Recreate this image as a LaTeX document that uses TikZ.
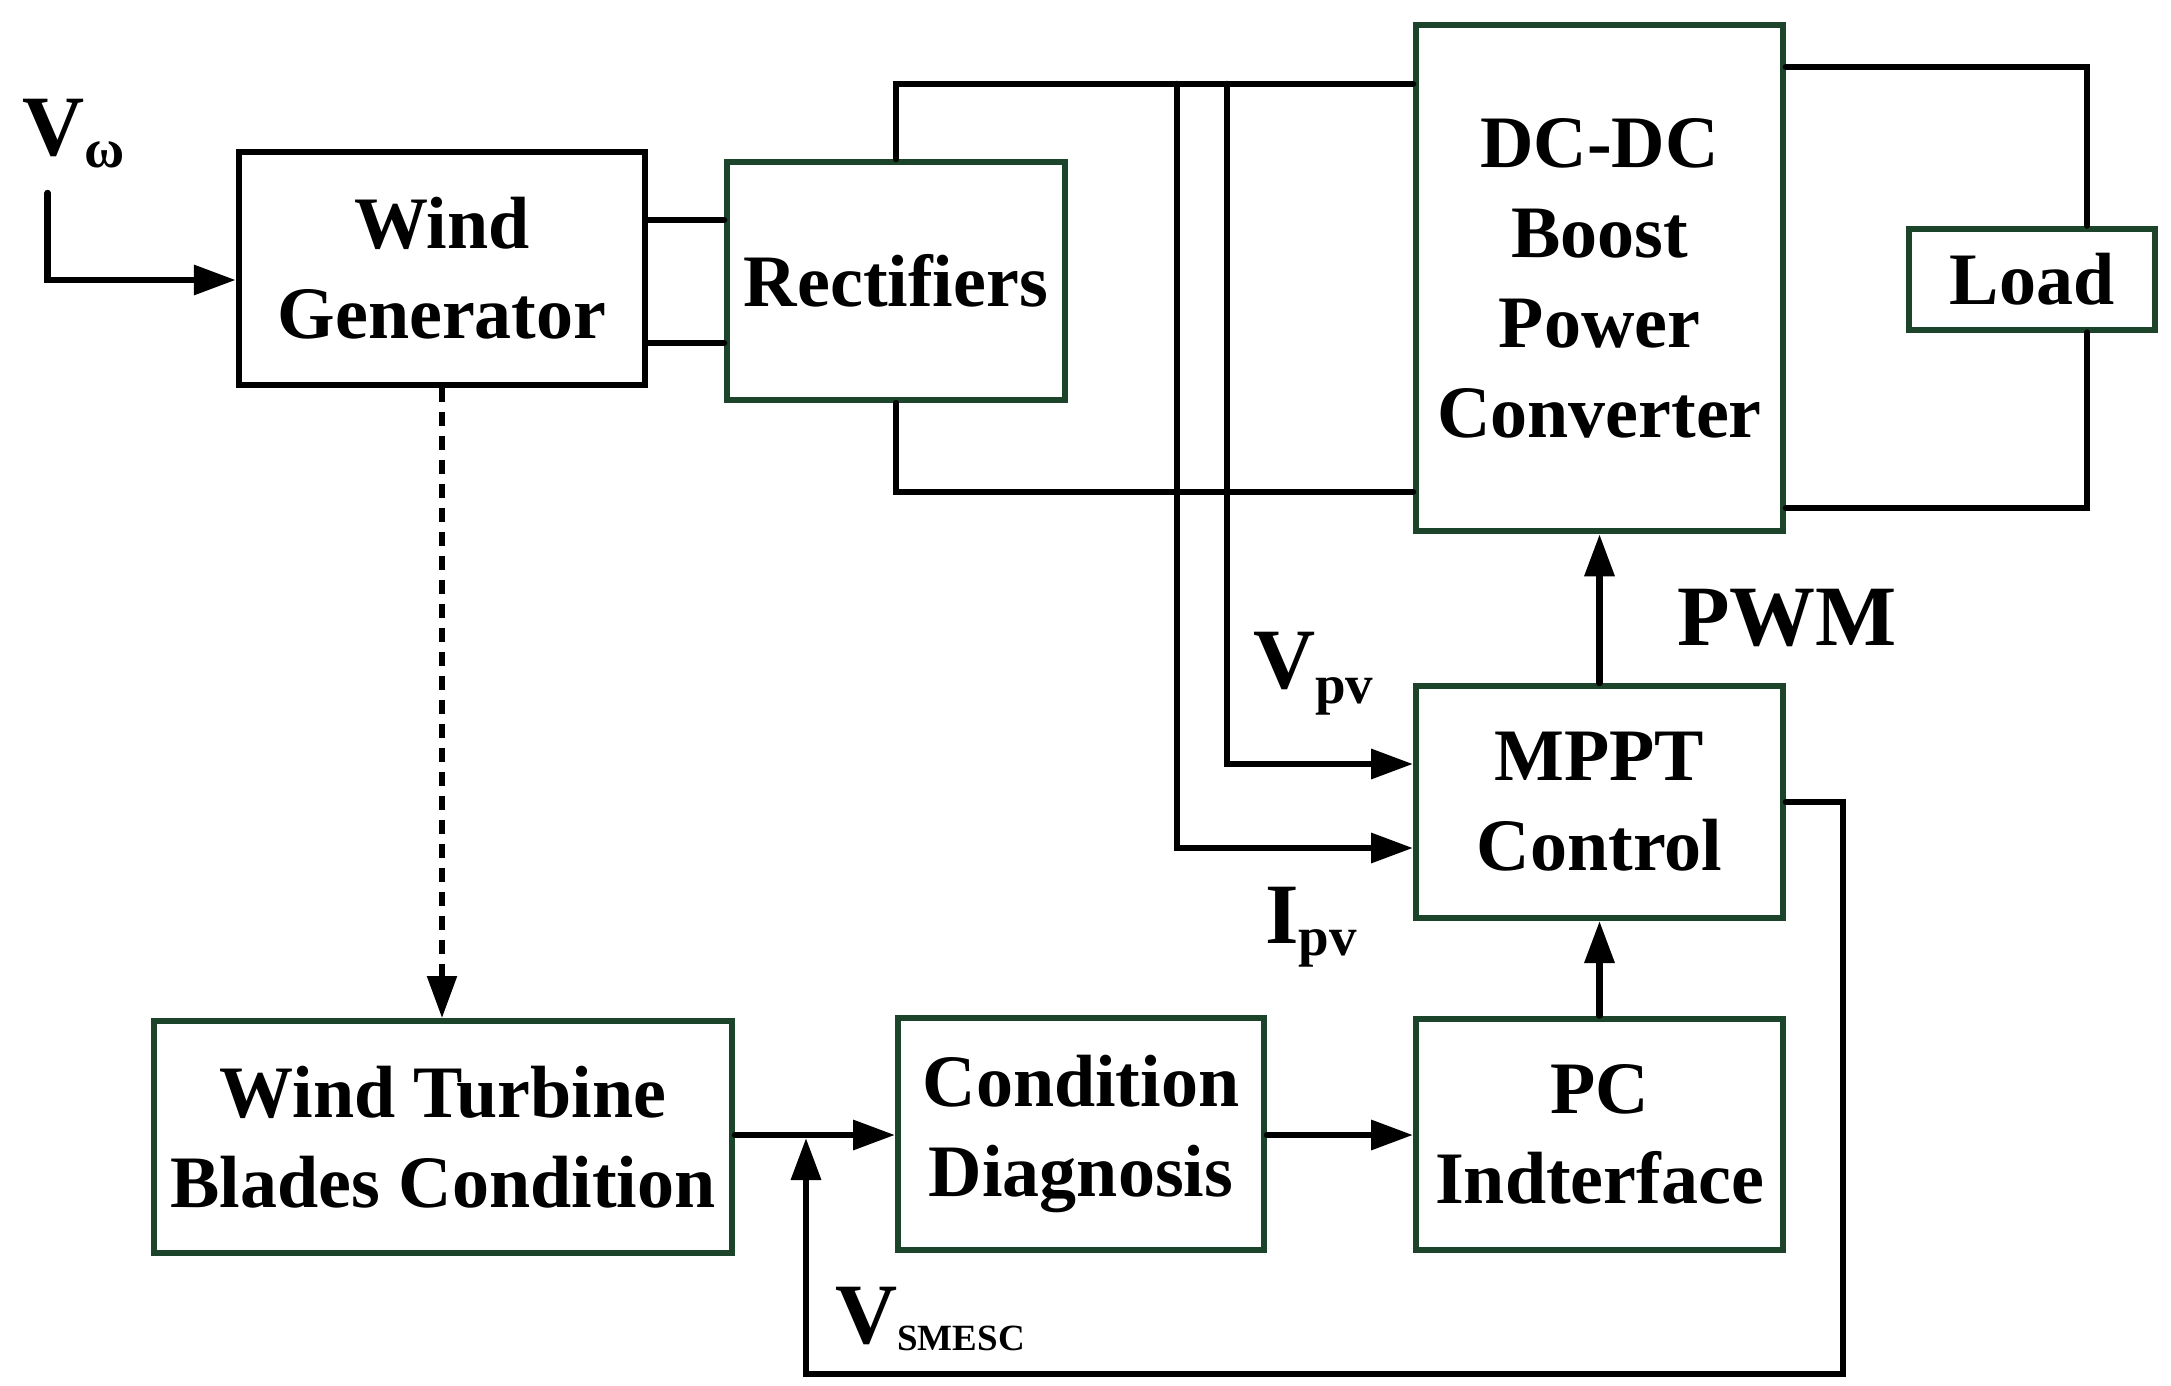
\documentclass[tikz,border=0pt]{standalone}
\usepackage{fontspec}
\setmainfont{Liberation Serif}
\usetikzlibrary{arrows.meta}
\definecolor{bgreen}{RGB}{28,68,42}
\begin{document}
\begin{tikzpicture}[x=1pt,y=-1pt,
  blk/.style={draw=black,line width=6pt,inner sep=0pt,align=center,font=\fontsize{74}{90}\selectfont\bfseries},
  gblk/.style={blk,draw=bgreen},
  conn/.style={line width=6.5pt,line cap=round,line join=miter},
  arr/.style={conn,-{Triangle[length=42pt,width=29pt]}},
  lbl/.style={inner sep=0pt,anchor=base west,font=\fontsize{86}{86}\selectfont\bfseries}]
\useasboundingbox (0,0) rectangle (2171,1386);
% boxes
\node[blk,minimum width=406.5pt,minimum height=233pt] (wg) at (442,268.5) {Wind\\Generator};
\node[gblk,minimum width=338pt,minimum height=238pt] (rect) at (896,281) {Rectifiers};
\node[gblk,minimum width=367pt,minimum height=506.5pt] (dc) at (1599.5,278) {DC-DC\\Boost\\Power\\Converter};
\node[gblk,minimum width=246pt,minimum height=101pt] (load) at (2032,279) {Load};
\node[gblk,minimum width=367pt,minimum height=232pt] (mppt) at (1599.5,802) {MPPT\\Control};
\node[gblk,minimum width=367pt,minimum height=231pt] (pc) at (1599.5,1134) {PC\\Indterface};
\node[gblk,minimum width=366pt,minimum height=232pt] (cd) at (1081,1134) {Condition\\Diagnosis};
\node[gblk,minimum width=578pt,minimum height=232pt] (wtbc) at (443,1137) {Wind Turbine\\Blades Condition};
% labels
\node[lbl] (vw) at (22,155) {V\raisebox{-13pt}{\fontsize{55}{55}\selectfont ω}};
\node[lbl] (vpv) at (1253,688) {V\raisebox{-15pt}{\fontsize{55}{55}\selectfont pv}};
\node[lbl] (ipv) at (1265,943) {I\raisebox{-12pt}{\fontsize{55}{55}\selectfont pv}};
\node[lbl] (vsm) at (835,1343) {V\raisebox{-7pt}{\fontsize{37}{37}\selectfont SMESC}};
\node[lbl] (pwm) at (1677,645) {PWM};
% coordinates
\coordinate (vin) at (47.7,193);
\coordinate (tv) at (1227,84);
\coordinate (ti) at (1177,84);
\coordinate (fb) at (1843,1374);
\coordinate (jn) at (806,1138);
% connectors
\draw[arr] (vin) |- (wg.west |- 0,280);
\draw[conn] (wg.east |- 0,220) -- (rect.west |- 0,220);
\draw[conn] (wg.east |- 0,343) -- (rect.west |- 0,343);
\draw[conn] (rect.north) -- (rect.north |- 0,84) -- (dc.west |- 0,84);
\draw[conn] (rect.south) -- (rect.south |- 0,492) -- (dc.west |- 0,492);
\draw[arr] (tv) |- (mppt.west |- 0,764);
\draw[arr] (ti) |- (mppt.west |- 0,848);
\draw[conn] (dc.east |- 0,67) -| (load.north -| 2087,0);
\draw[conn] (dc.east |- 0,508) -| (load.south -| 2087,0);
\draw[arr] (mppt.north) -- (dc.south);
\draw[arr] (pc.north) -- (mppt.south);
\draw[arr] (cd.east |- 0,1135) -- (pc.west |- 0,1135);
\draw[arr] (wtbc.east |- 0,1135) -- (cd.west |- 0,1135);
\draw[arr] (mppt.east |- 0,802) -| (fb) -| (jn);
\draw[arr,line width=5.5pt,line cap=butt,dash pattern=on 14pt off 10pt] (wg.south) -- (wg.south |- wtbc.north);
\end{tikzpicture}
\end{document}
